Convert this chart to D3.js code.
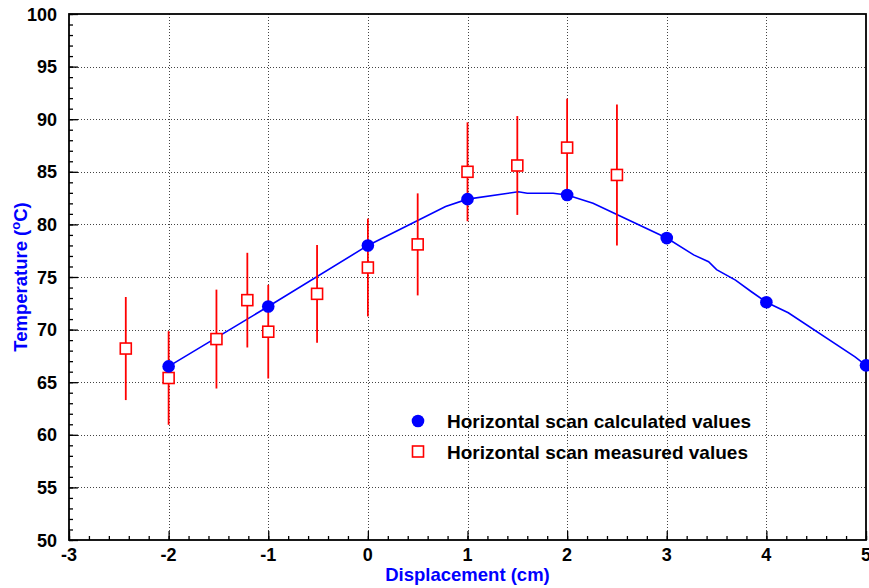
<!DOCTYPE html>
<html>
<head>
<meta charset="utf-8">
<script src="https://cdn.jsdelivr.net/npm/d3@7"></script>
<style>
  html, body { margin: 0; padding: 0; background: #fff; }
  svg { display: block; font-family: "Liberation Sans", Arial, Helvetica, sans-serif; }
</style>
</head>
<body>
<svg id="chart" width="869" height="588"></svg>
<script>
// calculated values (blue markers)
const calcX = [-2, -1, 0, 1, 2, 3, 4, 5];
const calcY = [66.5, 72.2, 78.0, 82.4, 82.8, 78.7, 72.6, 66.6];

// calculated curve (blue line)
const curveX = [-2, -1, 0, 0.78, 1, 1.51, 1.6, 1.86, 2, 2.26, 3, 3.27, 3.42, 3.5, 3.69, 3.85, 4, 4.22, 4.89, 5];
const curveY = [66.5, 72.2, 78.0, 81.7, 82.4, 83.1, 82.96, 82.96, 82.8, 82.0, 78.7, 77.1, 76.45, 75.7, 74.7, 73.6, 72.6, 71.6, 67.4, 66.6];

// measured values (red squares with error bars)
const measX = [-2.43, -2, -1.52, -1.21, -1, -0.51, 0, 0.5, 1, 1.5, 2, 2.5];
const measY = [68.2, 65.4, 69.1, 72.8, 69.8, 73.4, 75.9, 78.1, 85.0, 85.6, 87.3, 84.7];
const measErr = [4.9, 4.45, 4.7, 4.5, 4.45, 4.65, 4.65, 4.85, 4.7, 4.7, 4.65, 6.7];

const xTicks = [-3, -2, -1, 0, 1, 2, 3, 4, 5];
const yTicks = [50, 55, 60, 65, 70, 75, 80, 85, 90, 95, 100];
const legendLabels = ["Horizontal scan calculated values", "Horizontal scan measured values"];

const svg = d3.select("#chart");
const pLeft = 69, pRight = 866, pTop = 14, pBottom = 540;

const x = d3.scaleLinear().domain([-3, 5]).range([pLeft, pRight]);
const y = d3.scaleLinear().domain([50, 100]).range([pBottom, pTop]);

// grid
const grid = svg.append("g")
    .attr("stroke", "#444")
    .attr("stroke-width", 1)
    .attr("stroke-dasharray", "1,2");
grid.selectAll("line.gx")
    .data(xTicks.slice(1, -1))
    .join("line")
    .attr("x1", d => Math.round(x(d)) + 0.5).attr("x2", d => Math.round(x(d)) + 0.5)
    .attr("y1", pTop).attr("y2", pBottom);
grid.selectAll("line.gy")
    .data(yTicks.slice(1, -1))
    .join("line")
    .attr("x1", pLeft).attr("x2", pRight)
    .attr("y1", d => Math.round(y(d)) + 0.5).attr("y2", d => Math.round(y(d)) + 0.5);

// axes (ticks pointing inward)
const xAxis = svg.append("g")
    .attr("transform", `translate(0,${pBottom})`)
    .call(d3.axisTop(x).tickValues(d3.range(-3, 5.001, 0.2)).tickSize(4).tickFormat(""));
const xMajor = svg.append("g")
    .attr("transform", `translate(0,${pBottom})`)
    .call(d3.axisTop(x).tickValues(xTicks).tickSize(9).tickFormat(""));
const yAxis = svg.append("g")
    .attr("transform", `translate(${pLeft},0)`)
    .call(d3.axisRight(y).tickValues(d3.range(50, 100.001, 1)).tickSize(4).tickFormat(""));
const yMajor = svg.append("g")
    .attr("transform", `translate(${pLeft},0)`)
    .call(d3.axisRight(y).tickValues(yTicks).tickSize(9).tickFormat(""));
[xAxis, xMajor, yAxis, yMajor].forEach(g => {
    g.select(".domain").remove();
    g.selectAll("line").attr("stroke", "#000").attr("stroke-width", 1.3);
});

// frame
svg.append("rect")
    .attr("x", pLeft).attr("y", pTop)
    .attr("width", pRight - pLeft).attr("height", pBottom - pTop)
    .attr("fill", "none").attr("stroke", "#000").attr("stroke-width", 1.8);

// tick labels
svg.append("g").selectAll("text")
    .data(xTicks)
    .join("text")
    .attr("x", d => x(d)).attr("y", 561)
    .attr("text-anchor", "middle")
    .attr("font-size", 18).attr("font-weight", "bold")
    .text(d => d);
svg.append("g").selectAll("text")
    .data(yTicks)
    .join("text")
    .attr("x", 57).attr("y", d => y(d) + 6.5)
    .attr("text-anchor", "end")
    .attr("font-size", 18).attr("font-weight", "bold")
    .text(d => d);

// axis titles
svg.append("text")
    .attr("x", (pLeft + pRight) / 2).attr("y", 581)
    .attr("text-anchor", "middle")
    .attr("font-size", 18.5).attr("font-weight", "bold").attr("fill", "#0000ff")
    .text("Displacement (cm)");
const yt = svg.append("text")
    .attr("transform", `translate(27,${(pTop + pBottom) / 2}) rotate(-90)`)
    .attr("text-anchor", "middle")
    .attr("font-size", 18.5).attr("font-weight", "bold").attr("fill", "#0000ff");
yt.append("tspan").text("Temperature (");
yt.append("tspan").attr("font-size", 13).attr("dy", -7).text("o");
yt.append("tspan").attr("dy", 7).text("C)");

// blue curve
const curve = curveX.map((v, i) => [v, curveY[i]]);
svg.append("path")
    .datum(curve)
    .attr("fill", "none")
    .attr("stroke", "#0000ff")
    .attr("stroke-width", 1.6)
    .attr("d", d3.line().x(d => x(d[0])).y(d => y(d[1])));

// measured: error bars + squares
const meas = measX.map((v, i) => ({ x: v, y: measY[i], e: measErr[i] }));
svg.append("g").selectAll("line")
    .data(meas)
    .join("line")
    .attr("x1", d => x(d.x)).attr("x2", d => x(d.x))
    .attr("y1", d => y(d.y + d.e)).attr("y2", d => y(d.y - d.e))
    .attr("stroke", "#ff0000").attr("stroke-width", 1.8);
svg.append("g").selectAll("rect")
    .data(meas)
    .join("rect")
    .attr("x", d => x(d.x) - 5.5).attr("y", d => y(d.y) - 5.5)
    .attr("width", 11).attr("height", 11)
    .attr("fill", "#fff").attr("stroke", "#ff0000").attr("stroke-width", 1.6);

// calculated markers
const calc = calcX.map((v, i) => [v, calcY[i]]);
svg.append("g").selectAll("circle")
    .data(calc)
    .join("circle")
    .attr("cx", d => x(d[0])).attr("cy", d => y(d[1]))
    .attr("r", 6.3)
    .attr("fill", "#0000ff");

// legend
const lg = svg.append("g");
lg.append("circle").attr("cx", 418).attr("cy", 421).attr("r", 6.3).attr("fill", "#0000ff");
lg.append("rect").attr("x", 412.5).attr("y", 446).attr("width", 11).attr("height", 11)
    .attr("fill", "#fff").attr("stroke", "#ff0000").attr("stroke-width", 1.6);
lg.selectAll("text")
    .data(legendLabels)
    .join("text")
    .attr("x", 447).attr("y", (d, i) => 427.5 + i * 31)
    .attr("font-size", 19).attr("font-weight", "bold")
    .text(d => d);
</script>
</body>
</html>
